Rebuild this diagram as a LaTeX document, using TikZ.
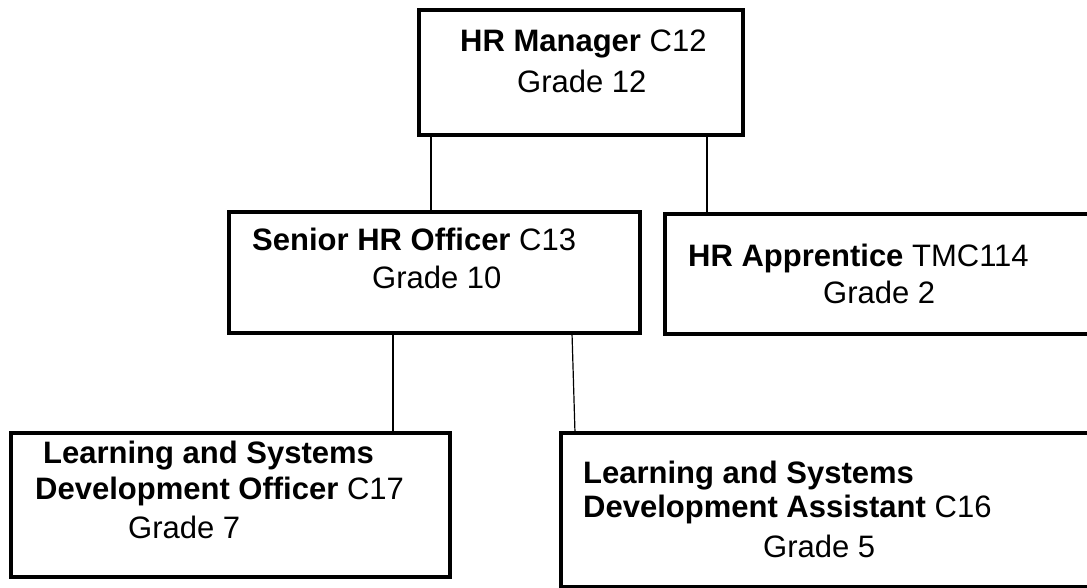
\documentclass[tikz,border=0pt]{standalone}
\usepackage{fontspec}
\setmainfont{Liberation Sans}[Ligatures=CommonOff]
\usetikzlibrary{calc}
\begin{document}
\begin{tikzpicture}[x=1pt,y=-1pt,
  post/.style={draw=black,line width=4pt,rectangle,inner sep=0pt,outer sep=0pt,anchor=north west},
  txt/.style={inner sep=0pt,anchor=base west,font=\fontsize{31}{37}\selectfont},
  link/.style={draw=black,line width=1.2pt}]
\useasboundingbox (0,0) rectangle (1087,587);
\clip (0,0) rectangle (1087,587);
\fill[white] (0,0) rectangle (1087,587);

% posts
\node[post,minimum width=324pt,minimum height=125pt] (hrm) at (419,10) {};
\node[post,minimum width=411pt,minimum height=121pt] (sen) at (229,212) {};
\node[post,minimum width=440pt,minimum height=120pt] (app) at (665,214) {};
\node[post,minimum width=439pt,minimum height=144pt] (lso) at (11,433) {};
\node[post,minimum width=540pt,minimum height=154pt] (lsa) at (561,433) {};

% reporting lines
\draw[link] ([xshift=12pt]hrm.south west) -- ([xshift=12pt]hrm.south west |- sen.north);
\draw[link] ([xshift=-36pt]hrm.south east) -- ([xshift=-36pt]hrm.south east |- app.north);
\draw[link] ([xshift=164pt]sen.south west) -- ([xshift=164pt]sen.south west |- lso.north);
\draw[link] ([xshift=-68pt]sen.south east) -- ([xshift=14pt]lsa.north west);

% titles
\node[txt] (t1a) at (460,51) {\textbf{HR Manager} C12};
\node[txt] (t1b) at (517,92) {Grade 12};
\node[txt] (t2a) at (252,250) {\textbf{Senior HR Officer} C13};
\node[txt] (t2b) at (372,288) {Grade 10};
\node[txt] (t3a) at (688,266) {\textbf{HR Apprentice} TMC114};
\node[txt] (t3b) at (823,303) {Grade 2};
\node[txt] (t4a) at (43,463) {\textbf{Learning and Systems}};
\node[txt] (t4b) at (35,499) {\textbf{Development Officer} C17};
\node[txt] (t4c) at (128,538) {Grade 7};
\node[txt] (t5a) at (583,483) {\textbf{Learning and Systems}};
\node[txt] (t5b) at (583,517) {\textbf{Development Assistant} C16};
\node[txt] (t5c) at (763,557) {Grade 5};
\end{tikzpicture}
\end{document}
